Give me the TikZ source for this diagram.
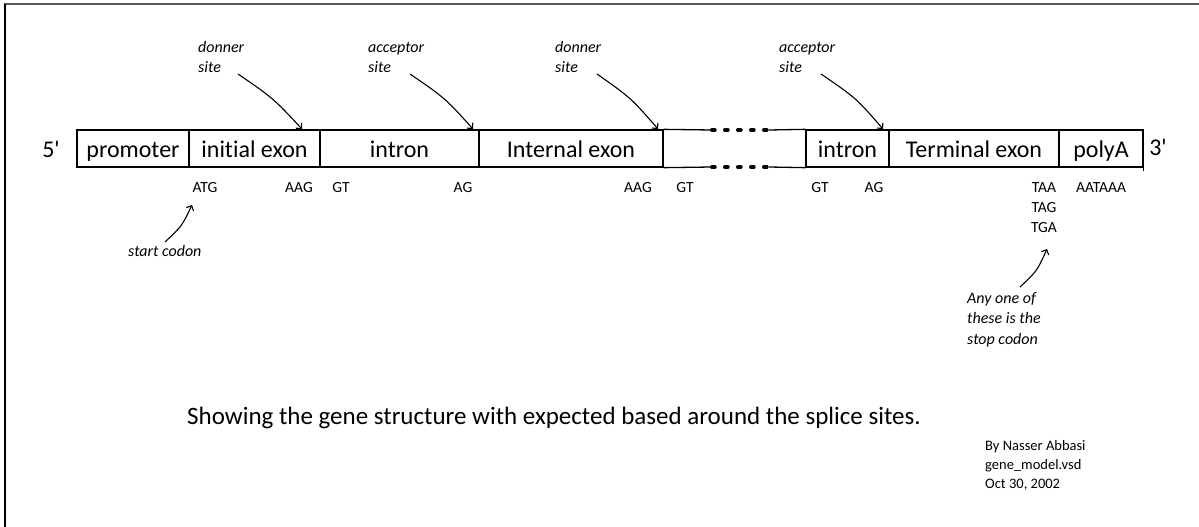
\documentclass[tikz,border=0pt]{standalone}
\usepackage{fontspec}
\setmainfont{Carlito}[Ligatures=NoCommon]
\usetikzlibrary{arrows.meta}
\begin{document}
\begin{tikzpicture}[x=1pt,y=-1pt,
  seg/.style={draw, line width=1.3pt, inner xsep=0pt, inner ysep=0pt,
    text height=27pt, text depth=10pt, font=\fontsize{24}{28}\selectfont},
  edge/.style={line width=1.3pt},
  dotline/.style={line width=3.5pt, line cap=round, dash pattern=on 3.2pt off 9.8pt},
  arr/.style={line width=1.1pt, -{Straight Barb[length=4pt,width=8pt]}},
  big/.style={font=\fontsize{24}{28}\selectfont, anchor=base, inner sep=0pt},
  lab/.style={font=\fontsize{15.5}{20}\selectfont, anchor=base, inner sep=0pt, align=center},
  note/.style={font=\itshape\fontsize{16}{20.5}\selectfont, anchor=base west, inner sep=0pt, align=left}
]
\useasboundingbox (0,0) rectangle (1199,527);
% frame
\draw[line width=1.6pt, gray!70!black] (4,4) -- (1199,4);
\draw[line width=1.6pt] (5,4) -- (5,527);

% gene segments
\node[seg, minimum width=112pt] (prom) at (133,148.5) {promoter};
\node[seg, minimum width=131pt] (ini) at (254.5,148.5) {initial exon};
\node[seg, minimum width=159pt] (in1) at (399.5,148.5) {intron};
\node[seg, minimum width=184pt] (iex) at (571,148.5) {Internal exon};
\node[seg, minimum width=83pt] (in2) at (847.5,148.5) {intron};
\node[seg, minimum width=170pt] (tex) at (974,148.5) {Terminal exon};
\node[seg, minimum width=84pt] (pa) at (1101,148.5) {polyA};
\draw[edge] (pa.south east) -- ++(0,3);

% gap with dots
\coordinate (gta) at (711.75,130);
\coordinate (gtb) at (769,130);
\coordinate (gba) at (711.75,167);
\coordinate (gbb) at (769,167);
\draw[edge] (iex.north east) -- (gta);
\draw[edge] (gtb) -- (in2.north west);
\draw[edge] (iex.south east) -- (gba);
\draw[edge] (gbb) -- (in2.south west);
\draw[dotline] (gta) -- (gtb);
\draw[dotline] (gba) -- (gbb);

% ends
\node[big] (five) at (51,157) {5\textquotesingle};
\node[big] (three) at (1158,155) {3\textquotesingle};

% sequences below
\node[lab] (atg) at (205,192) {ATG};
\node[lab] (aag1) at (299,192) {AAG};
\node[lab] (gt1) at (341,192) {GT};
\node[lab] (ag1) at (463,192) {AG};
\node[lab] (aag2) at (638,192) {AAG};
\node[lab] (gt2) at (685,192) {GT};
\node[lab] (gt3) at (820,192) {GT};
\node[lab] (ag2) at (874,192) {AG};
\node[lab] (stop) at (1044,232) {TAA\\TAG\\TGA};
\node[lab] (aat) at (1101,192) {AATAAA};

% site notes (base = last line)
\node[note] (don1) at (198,73) {donner\\site};
\node[note] (acc1) at (368,73) {acceptor\\site};
\node[note] (don2) at (555,73) {donner\\site};
\node[note] (acc2) at (779,73) {acceptor\\site};

\coordinate (d1s) at (238,74);  \coordinate (d1e) at (302,129);
\coordinate (a1s) at (410,74);  \coordinate (a1e) at (473,129);
\coordinate (d2s) at (597,74);  \coordinate (d2e) at (658,129);
\coordinate (a2s) at (821,74);  \coordinate (a2e) at (883,129);
\draw[arr] (d1s) .. controls (273,98) .. (d1e);
\draw[arr] (a1s) .. controls (445,98) .. (a1e);
\draw[arr] (d2s) .. controls (631,98) .. (d2e);
\draw[arr] (a2s) .. controls (856,98) .. (a2e);

% codon notes
\node[note] (start) at (128,256) {start codon};
\coordinate (sce) at (192,205);
\coordinate (scs) at (165,242);
\draw[arr] (scs) .. controls (182,226) .. (sce);

\node[note] (stopn) at (967,344) {Any one of\\these is the\\stop codon};
\coordinate (sts) at (1020,287);
\coordinate (ste) at (1047,249);
\draw[arr] (sts) .. controls (1037,271) .. (ste);

% caption and signature
\node[font=\fontsize{25}{30}\selectfont, anchor=base west, inner sep=0pt] (cap) at (187,424)
  {Showing the gene structure with expected based around the splice sites.};
\node[font=\fontsize{14.5}{19}\selectfont, anchor=base west, inner sep=0pt, align=left] (sig) at (985,488)
  {By Nasser Abbasi\\gene\_model.vsd\\Oct 30, 2002};
\end{tikzpicture}
\end{document}
